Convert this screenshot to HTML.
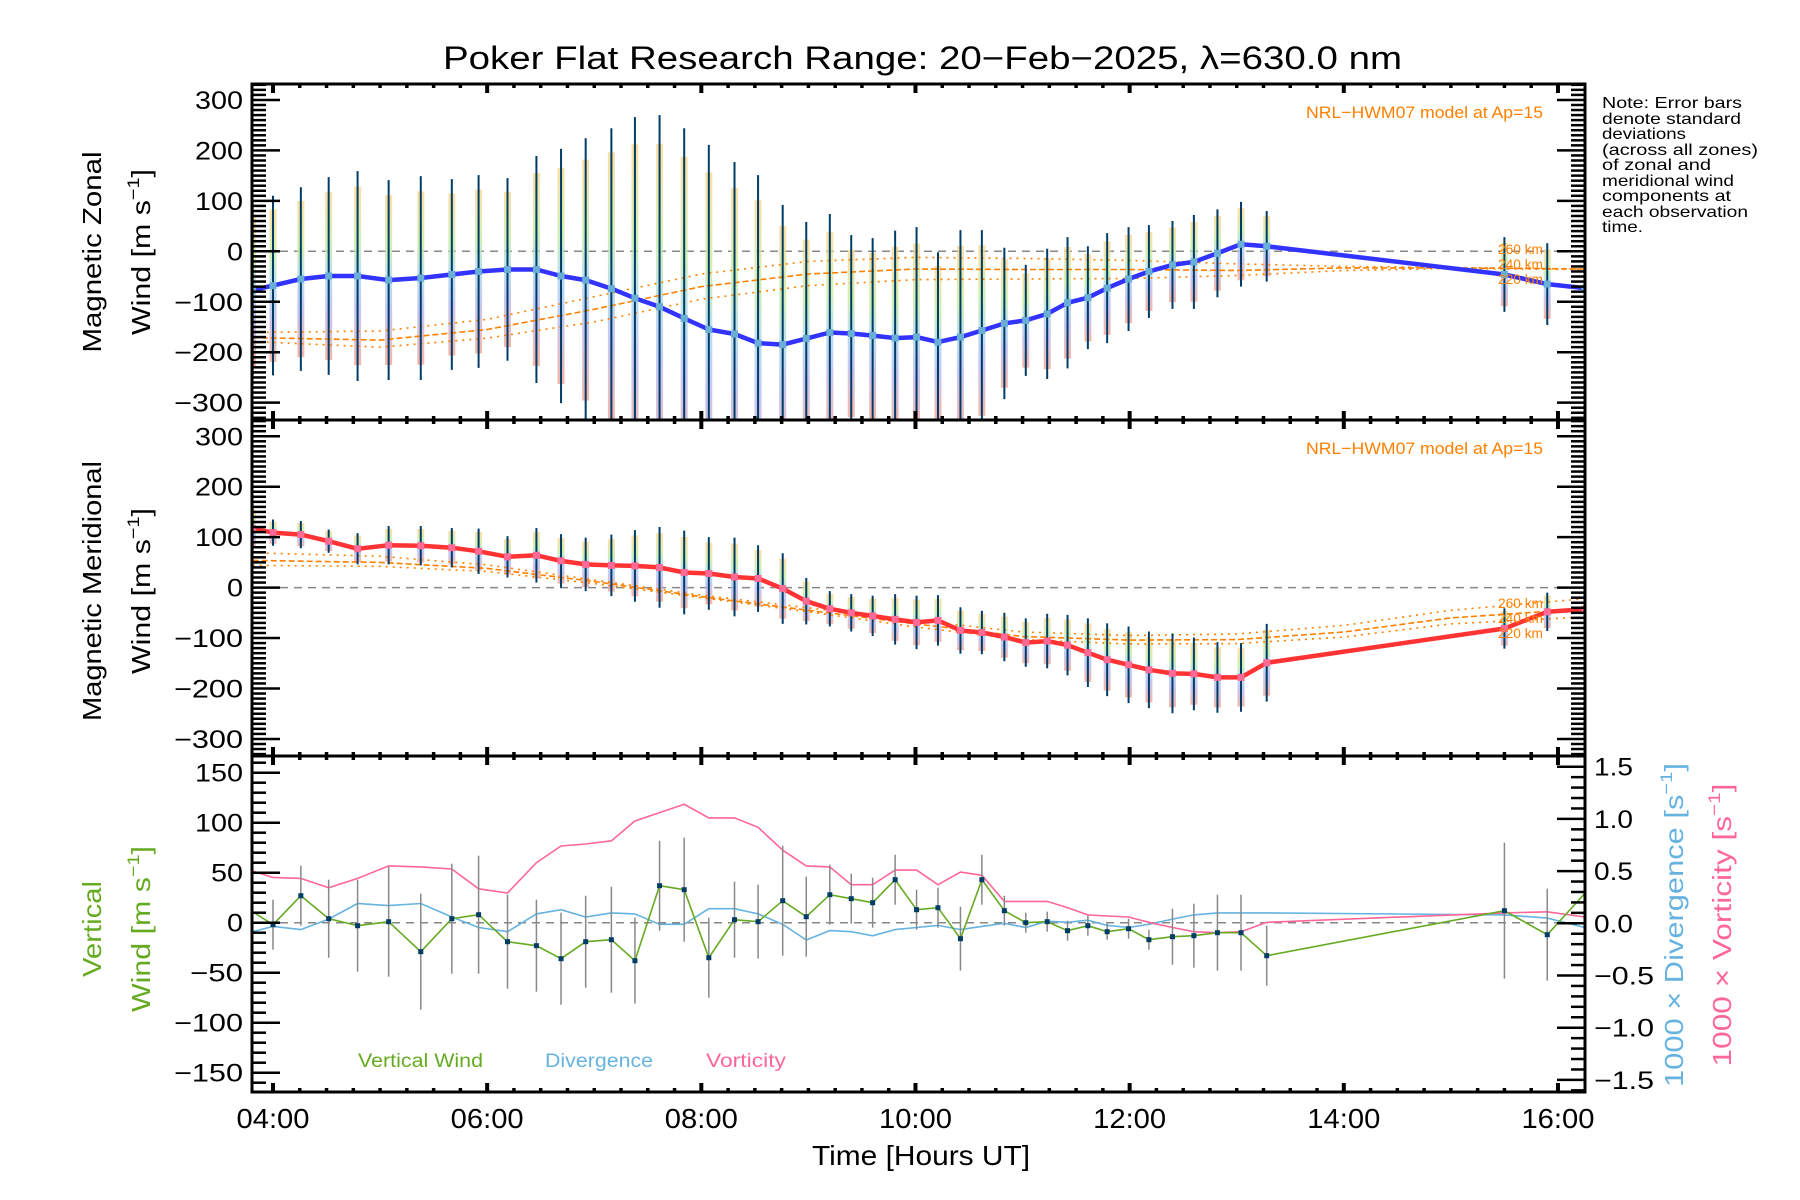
<!DOCTYPE html>
<html>
<head>
<meta charset="utf-8">
<style>
  html,body{margin:0;padding:0;background:#fff;}
  svg{display:block;font-family:"Liberation Sans","DejaVu Sans",sans-serif;}
</style>
</head>
<body>
<svg id="chart" xmlns="http://www.w3.org/2000/svg" width="1800" height="1200" viewBox="0 0 1800 1200">
  <defs>
    <clipPath id="clip1"><rect x="252" y="84" width="1333" height="336"/></clipPath>
    <clipPath id="clip2"><rect x="252" y="420" width="1333" height="336"/></clipPath>
    <clipPath id="clip3"><rect x="252" y="756" width="1333" height="336"/></clipPath>
    <linearGradient id="pastel" x1="0" y1="0" x2="0" y2="1">
      <stop offset="0" stop-color="#fbd890"/>
      <stop offset="0.3" stop-color="#c8eca0"/>
      <stop offset="0.5" stop-color="#a8d8f0"/>
      <stop offset="0.7" stop-color="#b8b8ee"/>
      <stop offset="1" stop-color="#f4a494"/>
    </linearGradient>
  </defs>
  <rect x="0" y="0" width="1800" height="1200" fill="#fff"/>
  <text x="443" y="69" font-size="32" textLength="959" lengthAdjust="spacingAndGlyphs">Poker Flat Research Range: 20−Feb−2025, λ=630.0 nm</text>

  <g id="layer-bands"></g>
  <g id="layer-model"></g>
  <g id="layer-data"></g>
  <g id="layer-axes"></g>

  <text x="1543" y="118" font-size="17" fill="#ff8000" text-anchor="end" textLength="237" lengthAdjust="spacingAndGlyphs">NRL−HWM07 model at Ap=15</text>
  <text x="1543" y="454" font-size="17" fill="#ff8000" text-anchor="end" textLength="237" lengthAdjust="spacingAndGlyphs">NRL−HWM07 model at Ap=15</text>

  <g font-size="16" fill="#000">
    <text x="1602" y="108" textLength="140" lengthAdjust="spacingAndGlyphs">Note: Error bars</text>
    <text x="1602" y="124" textLength="139" lengthAdjust="spacingAndGlyphs">denote standard</text>
    <text x="1602" y="139" textLength="84" lengthAdjust="spacingAndGlyphs">deviations</text>
    <text x="1602" y="155" textLength="156" lengthAdjust="spacingAndGlyphs">(across all zones)</text>
    <text x="1602" y="170" textLength="109" lengthAdjust="spacingAndGlyphs">of zonal and</text>
    <text x="1602" y="186" textLength="132" lengthAdjust="spacingAndGlyphs">meridional wind</text>
    <text x="1602" y="201" textLength="129" lengthAdjust="spacingAndGlyphs">components at</text>
    <text x="1602" y="217" textLength="146" lengthAdjust="spacingAndGlyphs">each observation</text>
    <text x="1602" y="232" textLength="41" lengthAdjust="spacingAndGlyphs">time.</text>
  </g>

  <text transform="translate(101,252) rotate(-90)" font-size="26" text-anchor="middle" textLength="201" lengthAdjust="spacingAndGlyphs">Magnetic Zonal</text>
  <text transform="translate(150,252) rotate(-90)" font-size="26" text-anchor="middle" textLength="166" lengthAdjust="spacingAndGlyphs">Wind [m s<tspan font-size="17" dy="-11">−1</tspan><tspan dy="11">]</tspan></text>
  <text transform="translate(101,591) rotate(-90)" font-size="26" text-anchor="middle" textLength="260" lengthAdjust="spacingAndGlyphs">Magnetic Meridional</text>
  <text transform="translate(150,591) rotate(-90)" font-size="26" text-anchor="middle" textLength="166" lengthAdjust="spacingAndGlyphs">Wind [m s<tspan font-size="17" dy="-11">−1</tspan><tspan dy="11">]</tspan></text>
  <text transform="translate(101,929) rotate(-90)" font-size="26" fill="#66aa22" text-anchor="middle" textLength="96" lengthAdjust="spacingAndGlyphs">Vertical</text>
  <text transform="translate(150,929) rotate(-90)" font-size="26" fill="#66aa22" text-anchor="middle" textLength="166" lengthAdjust="spacingAndGlyphs">Wind [m s<tspan font-size="17" dy="-11">−1</tspan><tspan dy="11">]</tspan></text>
  <text transform="translate(1683,925) rotate(-90)" font-size="26" fill="#66b3e0" text-anchor="middle" textLength="324" lengthAdjust="spacingAndGlyphs">1000 × Divergence [s<tspan font-size="17" dy="-11">−1</tspan><tspan dy="11">]</tspan></text>
  <text transform="translate(1731,925) rotate(-90)" font-size="26" fill="#ff6699" text-anchor="middle" textLength="283" lengthAdjust="spacingAndGlyphs">1000 × Vorticity [s<tspan font-size="17" dy="-11">−1</tspan><tspan dy="11">]</tspan></text>

  <text x="812" y="1165" font-size="28" textLength="218" lengthAdjust="spacingAndGlyphs">Time [Hours UT]</text>

  <text x="358" y="1067" font-size="19" fill="#66aa22" textLength="125" lengthAdjust="spacingAndGlyphs">Vertical Wind</text>
  <text x="545" y="1067" font-size="19" fill="#66b3e0" textLength="108" lengthAdjust="spacingAndGlyphs">Divergence</text>
  <text x="706" y="1067" font-size="19" fill="#ff6699" textLength="80" lengthAdjust="spacingAndGlyphs">Vorticity</text>
</svg>

<script>
const times = [3.81,4.00,4.26,4.52,4.79,5.08,5.38,5.67,5.92,6.19,6.46,6.69,6.92,7.16,7.38,7.61,7.84,8.07,8.31,8.53,8.76,8.98,9.20,9.40,9.60,9.81,10.01,10.21,10.42,10.62,10.83,11.03,11.23,11.42,11.61,11.79,11.99,12.18,12.40,12.60,12.82,13.04,13.28,15.50,15.90,16.25];
const zonalMean = [-77,-68,-55,-49,-49,-57,-53,-46,-40,-36,-36,-49,-57,-74,-93,-110,-133,-155,-164,-182,-185,-173,-161,-163,-167,-172,-170,-180,-170,-157,-143,-137,-124,-102,-92,-73,-55,-40,-27,-21,-4,14,10,-46,-65,-73];
const zonalSigma = [177,178,182,196,208,198,202,189,191,181,225,252,281,318,359,380,377,366,341,333,277,231,235,195,193,213,218,178,212,199,150,110,129,130,102,109,103,92,87,93,87,84,70,74,81,0];
const meridMean = [117,109,105,92,77,84,83,79,72,61,64,53,46,44,43,40,30,28,21,18,-2,-27,-42,-50,-56,-63,-69,-65,-85,-89,-98,-109,-106,-114,-129,-143,-153,-163,-170,-171,-178,-178,-149,-81,-48,-43];
const meridSigma = [45,26,27,23,31,38,39,39,45,41,54,53,53,61,71,80,83,72,78,66,70,46,35,37,40,50,53,50,46,43,48,48,54,60,68,72,76,76,79,72,70,68,77,40,38,0];
const vertWind = [11,-2,27,4,-3,1,-29,4,8,-19,-23,-36,-19,-17,-38,37,33,-35,3,1,22,6,28,24,20,43,13,15,-16,43,12,0,1,-8,-3,-9,-6,-17,-14,-13,-10,-10,-33,12,-12,29];
const vertErr = [0,25,30,39,46,55,58,55,59,47,46,46,46,53,43,45,52,40,38,37,55,40,30,25,25,25,20,20,32,25,15,10,10,10,10,8,10,10,28,32,38,38,30,68,46,0];
const divergence = [-0.08,-0.03,-0.06,0.04,0.19,0.17,0.19,0.06,-0.04,-0.08,0.09,0.13,0.06,0.10,0.09,-0.01,-0.01,0.14,0.14,0.09,-0.01,-0.16,-0.07,-0.08,-0.12,-0.06,-0.04,-0.02,-0.06,-0.03,0.00,-0.04,0.02,0.01,0.03,-0.02,-0.04,-0.01,0.04,0.08,0.10,0.10,0.10,0.08,0.05,-0.04];
const vorticity = [0.50,0.44,0.43,0.34,0.43,0.55,0.54,0.52,0.33,0.29,0.58,0.74,0.76,0.79,0.98,1.06,1.14,1.01,1.01,0.92,0.70,0.55,0.54,0.37,0.37,0.51,0.51,0.37,0.49,0.46,0.21,0.21,0.21,0.15,0.08,0.07,0.06,0.01,-0.04,-0.08,-0.09,-0.08,0.01,0.10,0.11,0.06];
const modelTimes = [3.81,5,6,7,8,9,10,11,12,13,14,15,16.25];
const zonalModel260 = [-161,-158,-135,-90,-45,-20,-12,-14,-18,-25,-30,-32,-35];
const zonalModel240 = [-171,-176,-155,-115,-70,-45,-35,-36,-36,-38,-33,-33,-35];
const zonalModel220 = [-179,-190,-172,-140,-95,-68,-56,-55,-54,-48,-38,-34,-36];
const meridModel260 = [69,62,45,15,-15,-40,-65,-88,-95,-92,-75,-45,-22];
const meridModel240 = [54,50,38,12,-18,-45,-72,-97,-104,-103,-88,-60,-42];
const meridModel220 = [44,42,32,8,-20,-48,-78,-103,-112,-111,-98,-72,-58];
const windTickLabels = [300,200,100,0,-100,-200,-300];
const vertTickLabels = [150,100,50,0,-50,-100,-150];
const rightTickLabels = [1.5,1.0,0.5,0.0,-0.5,-1.0,-1.5];
const hourTickLabels = [4,6,8,10,12,14,16];

const NS = "http://www.w3.org/2000/svg";
const L = 252, R = 1585;
const xS = t => 273 + (t - 4) * 107.08;
const y1 = v => 251.3 - v * 0.5045;
const y2 = v => 587.6 - v * 0.5045;
const y3 = v => 922.7 - v * 1.0;
const yR = v => 923.3 - v * 104.4;

function mk(tag, attrs, parent) {
  const el = document.createElementNS(NS, tag);
  for (const k in attrs) el.setAttribute(k, attrs[k]);
  parent.appendChild(el);
  return el;
}
const bands = document.getElementById('layer-bands');
const model = document.getElementById('layer-model');
const dataL = document.getElementById('layer-data');
const axes = document.getElementById('layer-axes');

function group(parent, clip, name) {
  const g = mk('g', clip ? {'clip-path': 'url(#' + clip + ')'} : {}, parent);
  
  
  return g;
}
function poly(g, xs, ys, ysc, attrs, name) {
  const pts = xs.map((t, i) => xS(t).toFixed(1) + ',' + ysc(ys[i]).toFixed(1)).join(' ');
  const p = mk('polyline', Object.assign({points: pts, fill: 'none'}, attrs), g);
  
  
  return p;
}

[[y1(0),'zonal-zero-line'],[y2(0),'meridional-zero-line'],[y3(0),'vertical-zero-line']].forEach(([y,n]) => {
  const l = mk('line', {x1: L, x2: R, y1: y, y2: y, stroke: '#888', 'stroke-width': 1.5, 'stroke-dasharray': '8,6'}, bands);
  
  
});

function windPanel(mean, sigma, ysc, clip, prefix, lineColor, markColor) {
  const gb = group(bands, clip, prefix + '-zone-spread');
  const ge = group(dataL, clip, prefix + '-error-bars');
  times.forEach((t, i) => {
    if (sigma[i] <= 0) return;
    const top = ysc(mean[i] + sigma[i] * 0.85), bot = ysc(mean[i] - sigma[i] * 0.85);
    const r = mk('rect', {x: xS(t) - 3.5, y: top, width: 7, height: bot - top, fill: 'url(#pastel)', opacity: 0.8}, gb);
    
    
    const e = mk('line', {x1: xS(t), x2: xS(t), y1: ysc(mean[i] + sigma[i]), y2: ysc(mean[i] - sigma[i]), stroke: '#003c66', 'stroke-width': 2}, ge);
    
    
  });
  const gl = group(dataL, clip, prefix + '-mean-series');
  poly(gl, times, mean, ysc, {stroke: lineColor, 'stroke-width': 4.5, 'stroke-linejoin': 'round'}, prefix + '-mean-line');
  times.forEach((t, i) => {
    const m = mk('rect', {x: xS(t) - 3.5, y: ysc(mean[i]) - 3.5, width: 7, height: 7, fill: markColor}, gl);
    
    
  });
}
function modelLines(arrs, ysc, clip, prefix) {
  const g = group(model, clip, prefix + '-model-lines');
  const dashes = ['2,5', '6,3', '2,5'];
  const names = ['260km', '240km', '220km'];
  arrs.forEach((a, k) => {
    poly(g, modelTimes, a, ysc, {stroke: '#ff8000', 'stroke-width': 1.6, 'stroke-dasharray': dashes[k]}, prefix + '-model-' + names[k]);
  });
}
modelLines([zonalModel260, zonalModel240, zonalModel220], y1, 'clip1', 'zonal');
modelLines([meridModel260, meridModel240, meridModel220], y2, 'clip2', 'meridional');
windPanel(zonalMean, zonalSigma, y1, 'clip1', 'zonal', '#3333ff', '#6aaed6');
windPanel(meridMean, meridSigma, y2, 'clip2', 'meridional', '#ff3333', '#ff6a96');

[[254,'260 km'],[269,'240 km'],[284,'220 km']].forEach(([y,s]) => {
  const t = mk('text', {x: 1498, y: y, 'font-size': 14, fill: '#ff8000', textLength: 45, lengthAdjust: 'spacingAndGlyphs'}, axes);
  t.textContent = s;
  
  
});
[[608,'260 km'],[623,'240 km'],[638,'220 km']].forEach(([y,s]) => {
  const t = mk('text', {x: 1498, y: y, 'font-size': 14, fill: '#ff8000', textLength: 45, lengthAdjust: 'spacingAndGlyphs'}, axes);
  t.textContent = s;
  
  
});

const g3 = group(dataL, 'clip3', 'vertical-panel-series');
poly(g3, times, divergence, yR, {stroke: '#66b3e0', 'stroke-width': 1.6}, 'divergence-line');
poly(g3, times, vorticity, yR, {stroke: '#ff6699', 'stroke-width': 1.6}, 'vorticity-line');
times.forEach((t, i) => {
  if (vertErr[i] <= 0) return;
  const e = mk('line', {x1: xS(t), x2: xS(t), y1: y3(vertWind[i] + vertErr[i]), y2: y3(vertWind[i] - vertErr[i]), stroke: '#888', 'stroke-width': 1.5}, g3);
  
  
});
poly(g3, times, vertWind, y3, {stroke: '#66aa22', 'stroke-width': 1.6}, 'vertical-wind-line');
times.forEach((t, i) => {
  if (t < 3.9 || t > 16.1) return;
  const m = mk('rect', {x: xS(t) - 2.5, y: y3(vertWind[i]) - 2.5, width: 5, height: 5, fill: '#003c66'}, g3);
  
  
});

[[84,'zonal-panel-frame'],[420,'meridional-panel-frame'],[756,'vertical-panel-frame']].forEach(([y,n]) => {
  const r = mk('rect', {x: L, y: y, width: R - L, height: 336, fill: 'none', stroke: '#000', 'stroke-width': 3}, axes);
  
  
});
const ticks = group(axes, null, 'axis-ticks');
function tickLine(x1, y1_, x2, y2_, w) {
  const l = mk('line', {x1: x1, y1: y1_, x2: x2, y2: y2_, stroke: '#000', 'stroke-width': w}, ticks);
  
  
}
[84, 420, 756, 1092].forEach(by => {
  for (let q = 15; q <= 65; q++) {
    const t = q / 4, x = xS(t);
    if (x < L + 2 || x > R - 2) continue;
    const major = (q % 8 === 0);
    const len = major ? 9 : 4, w = major ? 4 : 3.5;
    if (by !== 84) tickLine(x, by, x, by - len, w);
    if (by !== 1092) tickLine(x, by, x, by + len, w);
  }
});
[y1, y2].forEach(ysc => {
  for (let v = -330; v <= 330; v += 10) {
    const y = ysc(v);
    const major = (v % 100 === 0);
    const len = major ? 28 : 14;
    tickLine(L, y, L + len, y, 2.5);
    tickLine(R, y, R - len, y, 2.5);
  }
});
for (let v = -160; v <= 160; v += 10) {
  const y = y3(v);
  if (y < 757 || y > 1091) continue;
  tickLine(L, y, L + (v % 50 === 0 ? 28 : 14), y, 2.5);
}
for (let k = -16; k <= 16; k++) {
  const y = yR(k / 10);
  if (y < 757 || y > 1091) continue;
  tickLine(R, y, R - (k % 5 === 0 ? 28 : 14), y, 2.5);
}
function fmtNum(v) { return (v < 0 ? '−' : '') + Math.abs(v); }
function labelWidth(s) {
  let w = 0;
  for (const c of s) w += (c === '−') ? 21 : (c === '.' ? 7 : (c === ':' ? 9 : 16));
  return w;
}
[[y1,'zonal'],[y2,'meridional']].forEach(([ysc, n]) => {
  windTickLabels.forEach(v => {
    const s = fmtNum(v);
    const t = mk('text', {x: 243, y: ysc(v) + 9, 'font-size': 25, 'text-anchor': 'end', textLength: labelWidth(s), lengthAdjust: 'spacingAndGlyphs'}, axes);
    t.textContent = s;
    
    
  });
});
vertTickLabels.forEach(v => {
  const s = fmtNum(v);
  const t = mk('text', {x: 243, y: y3(v) + 9, 'font-size': 25, 'text-anchor': 'end', textLength: labelWidth(s), lengthAdjust: 'spacingAndGlyphs'}, axes);
  t.textContent = s;
  
  
});
rightTickLabels.forEach(v => {
  const s = (v < 0 ? '−' : '') + Math.abs(v).toFixed(1);
  const t = mk('text', {x: 1594, y: yR(v) + 9, 'font-size': 25, textLength: labelWidth(s), lengthAdjust: 'spacingAndGlyphs'}, axes);
  t.textContent = s;
  
  
});
hourTickLabels.forEach(h => {
  const s = (h < 10 ? '0' : '') + h + ':00';
  const t = mk('text', {x: xS(h), y: 1128, 'font-size': 28, 'text-anchor': 'middle', textLength: 73, lengthAdjust: 'spacingAndGlyphs'}, axes);
  t.textContent = s;
  
  
});
</script>
</body>
</html>
